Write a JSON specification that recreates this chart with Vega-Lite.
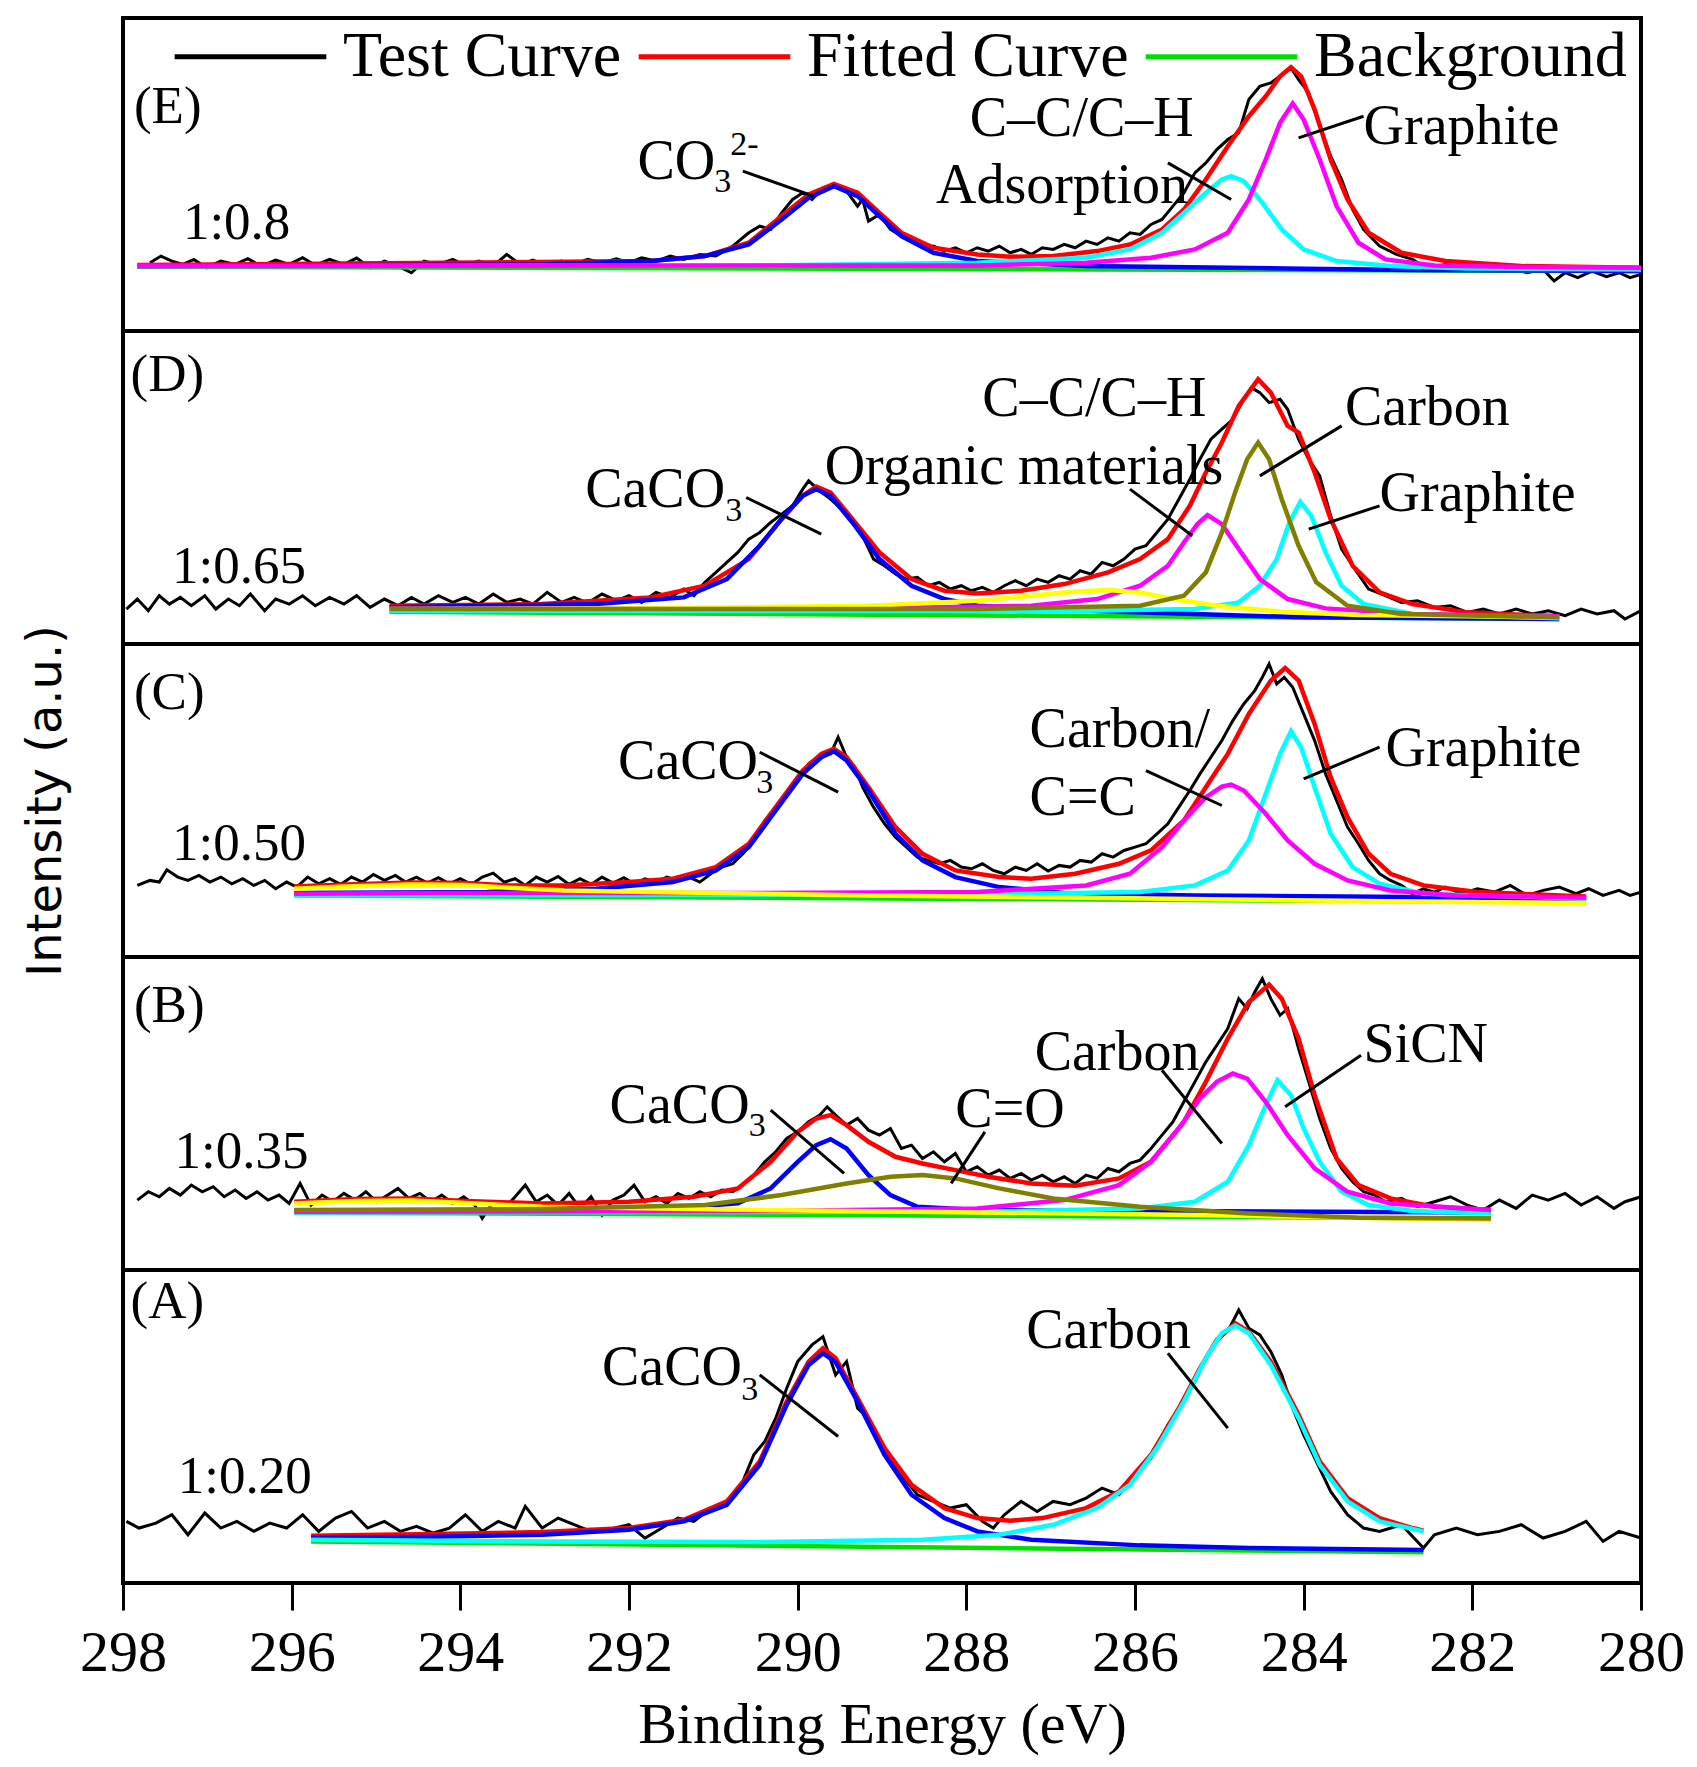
{
  "$schema": "https://vega.github.io/schema/vega-lite/v6.json",
  "background": "white",
  "padding": {"left": 19, "top": -22, "right": 0, "bottom": 0},
  "spacing": 0,
  "bounds": "flush",
  "config": {
    "view": {"stroke": "black", "strokeWidth": 4},
    "font": "Liberation Serif"
  },
  "datasets": {
    "curves": [
      {"p":"E","s":"Test Curve","x":297.68,"y":205},{"p":"E","s":"Test Curve","x":297.55,"y":225},{"p":"E","s":"Test Curve","x":297.42,"y":210},{"p":"E","s":"Test Curve","x":297.29,"y":200},{"p":"E","s":"Test Curve","x":297.16,"y":215},{"p":"E","s":"Test Curve","x":297.01,"y":190},{"p":"E","s":"Test Curve","x":296.84,"y":210},{"p":"E","s":"Test Curve","x":296.67,"y":200},{"p":"E","s":"Test Curve","x":296.52,"y":217},{"p":"E","s":"Test Curve","x":296.36,"y":195},{"p":"E","s":"Test Curve","x":296.19,"y":213},{"p":"E","s":"Test Curve","x":296.03,"y":200},{"p":"E","s":"Test Curve","x":295.87,"y":220},{"p":"E","s":"Test Curve","x":295.72,"y":197},{"p":"E","s":"Test Curve","x":295.55,"y":215},{"p":"E","s":"Test Curve","x":295.38,"y":200},{"p":"E","s":"Test Curve","x":295.23,"y":219},{"p":"E","s":"Test Curve","x":295.07,"y":190},{"p":"E","s":"Test Curve","x":294.9,"y":210},{"p":"E","s":"Test Curve","x":294.74,"y":195},{"p":"E","s":"Test Curve","x":294.58,"y":175},{"p":"E","s":"Test Curve","x":294.43,"y":210},{"p":"E","s":"Test Curve","x":294.26,"y":200},{"p":"E","s":"Test Curve","x":294.09,"y":215},{"p":"E","s":"Test Curve","x":293.94,"y":197},{"p":"E","s":"Test Curve","x":293.78,"y":210},{"p":"E","s":"Test Curve","x":293.61,"y":195},{"p":"E","s":"Test Curve","x":293.45,"y":230},{"p":"E","s":"Test Curve","x":293.29,"y":200},{"p":"E","s":"Test Curve","x":293.14,"y":213},{"p":"E","s":"Test Curve","x":292.97,"y":195},{"p":"E","s":"Test Curve","x":292.8,"y":210},{"p":"E","s":"Test Curve","x":292.65,"y":200},{"p":"E","s":"Test Curve","x":292.49,"y":215},{"p":"E","s":"Test Curve","x":292.32,"y":205},{"p":"E","s":"Test Curve","x":292.15,"y":217},{"p":"E","s":"Test Curve","x":292.0,"y":205},{"p":"E","s":"Test Curve","x":291.85,"y":220},{"p":"E","s":"Test Curve","x":291.68,"y":210},{"p":"E","s":"Test Curve","x":291.51,"y":225},{"p":"E","s":"Test Curve","x":291.35,"y":215},{"p":"E","s":"Test Curve","x":291.16,"y":230},{"p":"E","s":"Test Curve","x":290.97,"y":225},{"p":"E","s":"Test Curve","x":290.77,"y":255},{"p":"E","s":"Test Curve","x":290.58,"y":295},{"p":"E","s":"Test Curve","x":290.45,"y":315},{"p":"E","s":"Test Curve","x":290.32,"y":305},{"p":"E","s":"Test Curve","x":290.19,"y":355},{"p":"E","s":"Test Curve","x":290.06,"y":395},{"p":"E","s":"Test Curve","x":289.94,"y":415},{"p":"E","s":"Test Curve","x":289.83,"y":395},{"p":"E","s":"Test Curve","x":289.7,"y":430},{"p":"E","s":"Test Curve","x":289.57,"y":440},{"p":"E","s":"Test Curve","x":289.42,"y":420},{"p":"E","s":"Test Curve","x":289.29,"y":375},{"p":"E","s":"Test Curve","x":289.23,"y":395},{"p":"E","s":"Test Curve","x":289.16,"y":330},{"p":"E","s":"Test Curve","x":289.03,"y":350},{"p":"E","s":"Test Curve","x":288.9,"y":305},{"p":"E","s":"Test Curve","x":288.77,"y":285},{"p":"E","s":"Test Curve","x":288.65,"y":275},{"p":"E","s":"Test Curve","x":288.52,"y":250},{"p":"E","s":"Test Curve","x":288.39,"y":255},{"p":"E","s":"Test Curve","x":288.26,"y":240},{"p":"E","s":"Test Curve","x":288.13,"y":250},{"p":"E","s":"Test Curve","x":288.0,"y":235},{"p":"E","s":"Test Curve","x":287.87,"y":250},{"p":"E","s":"Test Curve","x":287.74,"y":240},{"p":"E","s":"Test Curve","x":287.61,"y":255},{"p":"E","s":"Test Curve","x":287.48,"y":235},{"p":"E","s":"Test Curve","x":287.35,"y":245},{"p":"E","s":"Test Curve","x":287.23,"y":230},{"p":"E","s":"Test Curve","x":287.1,"y":250},{"p":"E","s":"Test Curve","x":286.97,"y":245},{"p":"E","s":"Test Curve","x":286.84,"y":260},{"p":"E","s":"Test Curve","x":286.71,"y":250},{"p":"E","s":"Test Curve","x":286.58,"y":270},{"p":"E","s":"Test Curve","x":286.45,"y":260},{"p":"E","s":"Test Curve","x":286.32,"y":280},{"p":"E","s":"Test Curve","x":286.19,"y":270},{"p":"E","s":"Test Curve","x":286.06,"y":295},{"p":"E","s":"Test Curve","x":285.94,"y":290},{"p":"E","s":"Test Curve","x":285.81,"y":320},{"p":"E","s":"Test Curve","x":285.68,"y":335},{"p":"E","s":"Test Curve","x":285.55,"y":375},{"p":"E","s":"Test Curve","x":285.42,"y":415},{"p":"E","s":"Test Curve","x":285.29,"y":475},{"p":"E","s":"Test Curve","x":285.16,"y":505},{"p":"E","s":"Test Curve","x":285.03,"y":545},{"p":"E","s":"Test Curve","x":284.9,"y":575},{"p":"E","s":"Test Curve","x":284.77,"y":595},{"p":"E","s":"Test Curve","x":284.65,"y":695},{"p":"E","s":"Test Curve","x":284.52,"y":735},{"p":"E","s":"Test Curve","x":284.39,"y":745},{"p":"E","s":"Test Curve","x":284.26,"y":770},{"p":"E","s":"Test Curve","x":284.15,"y":790},{"p":"E","s":"Test Curve","x":284.06,"y":755},{"p":"E","s":"Test Curve","x":283.94,"y":715},{"p":"E","s":"Test Curve","x":283.81,"y":615},{"p":"E","s":"Test Curve","x":283.68,"y":525},{"p":"E","s":"Test Curve","x":283.55,"y":455},{"p":"E","s":"Test Curve","x":283.42,"y":365},{"p":"E","s":"Test Curve","x":283.29,"y":305},{"p":"E","s":"Test Curve","x":283.1,"y":255},{"p":"E","s":"Test Curve","x":282.9,"y":230},{"p":"E","s":"Test Curve","x":282.71,"y":215},{"p":"E","s":"Test Curve","x":282.52,"y":185},{"p":"E","s":"Test Curve","x":282.32,"y":200},{"p":"E","s":"Test Curve","x":282.13,"y":185},{"p":"E","s":"Test Curve","x":281.94,"y":195},{"p":"E","s":"Test Curve","x":281.74,"y":180},{"p":"E","s":"Test Curve","x":281.55,"y":190},{"p":"E","s":"Test Curve","x":281.35,"y":175},{"p":"E","s":"Test Curve","x":281.16,"y":185},{"p":"E","s":"Test Curve","x":281.03,"y":150},{"p":"E","s":"Test Curve","x":280.9,"y":175},{"p":"E","s":"Test Curve","x":280.75,"y":160},{"p":"E","s":"Test Curve","x":280.58,"y":180},{"p":"E","s":"Test Curve","x":280.41,"y":163},{"p":"E","s":"Test Curve","x":280.26,"y":175},{"p":"E","s":"Test Curve","x":280.13,"y":160},{"p":"E","s":"Test Curve","x":280.0,"y":170},
      {"p":"E","s":"Fitted Curve","x":297.83,"y":198},{"p":"E","s":"Fitted Curve","x":291.74,"y":210},{"p":"E","s":"Fitted Curve","x":291.1,"y":225},{"p":"E","s":"Fitted Curve","x":290.58,"y":265},{"p":"E","s":"Fitted Curve","x":290.19,"y":345},{"p":"E","s":"Fitted Curve","x":289.87,"y":410},{"p":"E","s":"Fitted Curve","x":289.57,"y":442},{"p":"E","s":"Fitted Curve","x":289.29,"y":415},{"p":"E","s":"Fitted Curve","x":289.03,"y":355},{"p":"E","s":"Fitted Curve","x":288.77,"y":295},{"p":"E","s":"Fitted Curve","x":288.39,"y":250},{"p":"E","s":"Fitted Curve","x":287.87,"y":230},{"p":"E","s":"Fitted Curve","x":287.48,"y":223},{"p":"E","s":"Fitted Curve","x":286.97,"y":225},{"p":"E","s":"Fitted Curve","x":286.45,"y":240},{"p":"E","s":"Fitted Curve","x":286.06,"y":260},{"p":"E","s":"Fitted Curve","x":285.68,"y":305},{"p":"E","s":"Fitted Curve","x":285.42,"y":365},{"p":"E","s":"Fitted Curve","x":285.16,"y":455},{"p":"E","s":"Fitted Curve","x":284.9,"y":555},{"p":"E","s":"Fitted Curve","x":284.65,"y":645},{"p":"E","s":"Fitted Curve","x":284.45,"y":705},{"p":"E","s":"Fitted Curve","x":284.28,"y":765},{"p":"E","s":"Fitted Curve","x":284.15,"y":792},{"p":"E","s":"Fitted Curve","x":284.03,"y":765},{"p":"E","s":"Fitted Curve","x":283.87,"y":665},{"p":"E","s":"Fitted Curve","x":283.68,"y":515},{"p":"E","s":"Fitted Curve","x":283.48,"y":395},{"p":"E","s":"Fitted Curve","x":283.23,"y":295},{"p":"E","s":"Fitted Curve","x":282.84,"y":235},{"p":"E","s":"Fitted Curve","x":282.32,"y":210},{"p":"E","s":"Fitted Curve","x":281.42,"y":195},{"p":"E","s":"Fitted Curve","x":280.0,"y":190},
      {"p":"E","s":"Background","x":297.83,"y":193},{"p":"E","s":"Background","x":280.0,"y":180},
      {"p":"E","s":"b","x":297.83,"y":195},{"p":"E","s":"b","x":293.03,"y":200},{"p":"E","s":"b","x":291.74,"y":210},{"p":"E","s":"b","x":291.1,"y":225},{"p":"E","s":"b","x":290.58,"y":260},{"p":"E","s":"b","x":290.19,"y":335},{"p":"E","s":"b","x":289.87,"y":400},{"p":"E","s":"b","x":289.57,"y":435},{"p":"E","s":"b","x":289.29,"y":405},{"p":"E","s":"b","x":289.03,"y":345},{"p":"E","s":"b","x":288.77,"y":285},{"p":"E","s":"b","x":288.39,"y":235},{"p":"E","s":"b","x":287.87,"y":210},{"p":"E","s":"b","x":286.58,"y":195},{"p":"E","s":"b","x":284.0,"y":187},{"p":"E","s":"b","x":282.71,"y":183},{"p":"E","s":"b","x":280.0,"y":180},
      {"p":"E","s":"c","x":297.83,"y":195},{"p":"E","s":"c","x":290.45,"y":197},{"p":"E","s":"c","x":287.87,"y":205},{"p":"E","s":"c","x":286.58,"y":220},{"p":"E","s":"c","x":286.06,"y":245},{"p":"E","s":"c","x":285.68,"y":295},{"p":"E","s":"c","x":285.42,"y":355},{"p":"E","s":"c","x":285.16,"y":415},{"p":"E","s":"c","x":284.97,"y":455},{"p":"E","s":"c","x":284.86,"y":465},{"p":"E","s":"c","x":284.71,"y":450},{"p":"E","s":"c","x":284.52,"y":395},{"p":"E","s":"c","x":284.26,"y":305},{"p":"E","s":"c","x":284.0,"y":245},{"p":"E","s":"c","x":283.61,"y":210},{"p":"E","s":"c","x":282.97,"y":195},{"p":"E","s":"c","x":282.06,"y":188},{"p":"E","s":"c","x":280.0,"y":185},
      {"p":"E","s":"m","x":297.83,"y":195},{"p":"E","s":"m","x":287.87,"y":197},{"p":"E","s":"m","x":286.58,"y":205},{"p":"E","s":"m","x":285.81,"y":220},{"p":"E","s":"m","x":285.29,"y":245},{"p":"E","s":"m","x":284.9,"y":295},{"p":"E","s":"m","x":284.65,"y":395},{"p":"E","s":"m","x":284.45,"y":515},{"p":"E","s":"m","x":284.28,"y":625},{"p":"E","s":"m","x":284.13,"y":683},{"p":"E","s":"m","x":284.0,"y":635},{"p":"E","s":"m","x":283.81,"y":515},{"p":"E","s":"m","x":283.61,"y":375},{"p":"E","s":"m","x":283.35,"y":265},{"p":"E","s":"m","x":283.03,"y":215},{"p":"E","s":"m","x":282.45,"y":197},{"p":"E","s":"m","x":281.42,"y":192},{"p":"E","s":"m","x":280.0,"y":190},

      {"p":"D","s":"Test Curve","x":297.96,"y":105},{"p":"D","s":"Test Curve","x":297.83,"y":135},{"p":"D","s":"Test Curve","x":297.7,"y":100},{"p":"D","s":"Test Curve","x":297.57,"y":145},{"p":"D","s":"Test Curve","x":297.45,"y":120},{"p":"D","s":"Test Curve","x":297.32,"y":140},{"p":"D","s":"Test Curve","x":297.19,"y":115},{"p":"D","s":"Test Curve","x":297.03,"y":145},{"p":"D","s":"Test Curve","x":296.9,"y":105},{"p":"D","s":"Test Curve","x":296.75,"y":135},{"p":"D","s":"Test Curve","x":296.62,"y":115},{"p":"D","s":"Test Curve","x":296.49,"y":150},{"p":"D","s":"Test Curve","x":296.32,"y":100},{"p":"D","s":"Test Curve","x":296.19,"y":135},{"p":"D","s":"Test Curve","x":296.03,"y":120},{"p":"D","s":"Test Curve","x":295.87,"y":145},{"p":"D","s":"Test Curve","x":295.72,"y":115},{"p":"D","s":"Test Curve","x":295.55,"y":140},{"p":"D","s":"Test Curve","x":295.38,"y":120},{"p":"D","s":"Test Curve","x":295.23,"y":145},{"p":"D","s":"Test Curve","x":295.07,"y":110},{"p":"D","s":"Test Curve","x":294.9,"y":135},{"p":"D","s":"Test Curve","x":294.74,"y":115},{"p":"D","s":"Test Curve","x":294.58,"y":140},{"p":"D","s":"Test Curve","x":294.43,"y":120},{"p":"D","s":"Test Curve","x":294.26,"y":145},{"p":"D","s":"Test Curve","x":294.09,"y":125},{"p":"D","s":"Test Curve","x":293.94,"y":140},{"p":"D","s":"Test Curve","x":293.78,"y":120},{"p":"D","s":"Test Curve","x":293.61,"y":150},{"p":"D","s":"Test Curve","x":293.45,"y":125},{"p":"D","s":"Test Curve","x":293.29,"y":135},{"p":"D","s":"Test Curve","x":293.14,"y":120},{"p":"D","s":"Test Curve","x":292.97,"y":155},{"p":"D","s":"Test Curve","x":292.8,"y":125},{"p":"D","s":"Test Curve","x":292.65,"y":140},{"p":"D","s":"Test Curve","x":292.49,"y":123},{"p":"D","s":"Test Curve","x":292.32,"y":150},{"p":"D","s":"Test Curve","x":292.15,"y":130},{"p":"D","s":"Test Curve","x":292.0,"y":145},{"p":"D","s":"Test Curve","x":291.85,"y":125},{"p":"D","s":"Test Curve","x":291.68,"y":155},{"p":"D","s":"Test Curve","x":291.51,"y":140},{"p":"D","s":"Test Curve","x":291.35,"y":165},{"p":"D","s":"Test Curve","x":291.23,"y":145},{"p":"D","s":"Test Curve","x":291.1,"y":185},{"p":"D","s":"Test Curve","x":290.97,"y":215},{"p":"D","s":"Test Curve","x":290.84,"y":245},{"p":"D","s":"Test Curve","x":290.71,"y":275},{"p":"D","s":"Test Curve","x":290.58,"y":315},{"p":"D","s":"Test Curve","x":290.45,"y":335},{"p":"D","s":"Test Curve","x":290.32,"y":365},{"p":"D","s":"Test Curve","x":290.19,"y":390},{"p":"D","s":"Test Curve","x":290.06,"y":415},{"p":"D","s":"Test Curve","x":289.94,"y":465},{"p":"D","s":"Test Curve","x":289.87,"y":490},{"p":"D","s":"Test Curve","x":289.74,"y":460},{"p":"D","s":"Test Curve","x":289.61,"y":435},{"p":"D","s":"Test Curve","x":289.48,"y":405},{"p":"D","s":"Test Curve","x":289.35,"y":365},{"p":"D","s":"Test Curve","x":289.23,"y":325},{"p":"D","s":"Test Curve","x":289.1,"y":255},{"p":"D","s":"Test Curve","x":288.97,"y":235},{"p":"D","s":"Test Curve","x":288.84,"y":210},{"p":"D","s":"Test Curve","x":288.71,"y":195},{"p":"D","s":"Test Curve","x":288.58,"y":200},{"p":"D","s":"Test Curve","x":288.45,"y":175},{"p":"D","s":"Test Curve","x":288.32,"y":185},{"p":"D","s":"Test Curve","x":288.19,"y":165},{"p":"D","s":"Test Curve","x":288.06,"y":175},{"p":"D","s":"Test Curve","x":287.94,"y":160},{"p":"D","s":"Test Curve","x":287.81,"y":170},{"p":"D","s":"Test Curve","x":287.68,"y":155},{"p":"D","s":"Test Curve","x":287.55,"y":175},{"p":"D","s":"Test Curve","x":287.42,"y":190},{"p":"D","s":"Test Curve","x":287.29,"y":175},{"p":"D","s":"Test Curve","x":287.16,"y":195},{"p":"D","s":"Test Curve","x":287.03,"y":185},{"p":"D","s":"Test Curve","x":286.9,"y":205},{"p":"D","s":"Test Curve","x":286.77,"y":195},{"p":"D","s":"Test Curve","x":286.65,"y":220},{"p":"D","s":"Test Curve","x":286.52,"y":210},{"p":"D","s":"Test Curve","x":286.39,"y":245},{"p":"D","s":"Test Curve","x":286.26,"y":235},{"p":"D","s":"Test Curve","x":286.13,"y":255},{"p":"D","s":"Test Curve","x":286.0,"y":285},{"p":"D","s":"Test Curve","x":285.87,"y":295},{"p":"D","s":"Test Curve","x":285.74,"y":335},{"p":"D","s":"Test Curve","x":285.61,"y":375},{"p":"D","s":"Test Curve","x":285.48,"y":435},{"p":"D","s":"Test Curve","x":285.35,"y":495},{"p":"D","s":"Test Curve","x":285.23,"y":555},{"p":"D","s":"Test Curve","x":285.1,"y":615},{"p":"D","s":"Test Curve","x":284.97,"y":645},{"p":"D","s":"Test Curve","x":284.84,"y":675},{"p":"D","s":"Test Curve","x":284.71,"y":735},{"p":"D","s":"Test Curve","x":284.62,"y":770},{"p":"D","s":"Test Curve","x":284.52,"y":755},{"p":"D","s":"Test Curve","x":284.41,"y":725},{"p":"D","s":"Test Curve","x":284.28,"y":735},{"p":"D","s":"Test Curve","x":284.19,"y":705},{"p":"D","s":"Test Curve","x":284.06,"y":615},{"p":"D","s":"Test Curve","x":283.94,"y":555},{"p":"D","s":"Test Curve","x":283.81,"y":505},{"p":"D","s":"Test Curve","x":283.68,"y":385},{"p":"D","s":"Test Curve","x":283.55,"y":285},{"p":"D","s":"Test Curve","x":283.42,"y":235},{"p":"D","s":"Test Curve","x":283.23,"y":165},{"p":"D","s":"Test Curve","x":283.03,"y":145},{"p":"D","s":"Test Curve","x":282.84,"y":125},{"p":"D","s":"Test Curve","x":282.65,"y":130},{"p":"D","s":"Test Curve","x":282.45,"y":110},{"p":"D","s":"Test Curve","x":282.26,"y":115},{"p":"D","s":"Test Curve","x":282.06,"y":95},{"p":"D","s":"Test Curve","x":281.87,"y":105},{"p":"D","s":"Test Curve","x":281.68,"y":90},{"p":"D","s":"Test Curve","x":281.48,"y":105},{"p":"D","s":"Test Curve","x":281.29,"y":90},{"p":"D","s":"Test Curve","x":281.1,"y":100},{"p":"D","s":"Test Curve","x":280.9,"y":85},{"p":"D","s":"Test Curve","x":280.71,"y":105},{"p":"D","s":"Test Curve","x":280.52,"y":90},{"p":"D","s":"Test Curve","x":280.32,"y":100},{"p":"D","s":"Test Curve","x":280.19,"y":75},{"p":"D","s":"Test Curve","x":280.0,"y":100},
      {"p":"D","s":"Fitted Curve","x":294.84,"y":115},{"p":"D","s":"Fitted Curve","x":293.03,"y":120},{"p":"D","s":"Fitted Curve","x":291.74,"y":140},{"p":"D","s":"Fitted Curve","x":291.1,"y":175},{"p":"D","s":"Fitted Curve","x":290.58,"y":255},{"p":"D","s":"Fitted Curve","x":290.19,"y":375},{"p":"D","s":"Fitted Curve","x":289.94,"y":445},{"p":"D","s":"Fitted Curve","x":289.78,"y":473},{"p":"D","s":"Fitted Curve","x":289.61,"y":455},{"p":"D","s":"Fitted Curve","x":289.35,"y":375},{"p":"D","s":"Fitted Curve","x":289.03,"y":275},{"p":"D","s":"Fitted Curve","x":288.65,"y":195},{"p":"D","s":"Fitted Curve","x":288.26,"y":160},{"p":"D","s":"Fitted Curve","x":287.87,"y":152},{"p":"D","s":"Fitted Curve","x":287.35,"y":160},{"p":"D","s":"Fitted Curve","x":286.84,"y":180},{"p":"D","s":"Fitted Curve","x":286.32,"y":215},{"p":"D","s":"Fitted Curve","x":285.94,"y":255},{"p":"D","s":"Fitted Curve","x":285.61,"y":315},{"p":"D","s":"Fitted Curve","x":285.35,"y":415},{"p":"D","s":"Fitted Curve","x":285.16,"y":515},{"p":"D","s":"Fitted Curve","x":284.97,"y":605},{"p":"D","s":"Fitted Curve","x":284.77,"y":715},{"p":"D","s":"Fitted Curve","x":284.54,"y":795},{"p":"D","s":"Fitted Curve","x":284.39,"y":755},{"p":"D","s":"Fitted Curve","x":284.19,"y":655},{"p":"D","s":"Fitted Curve","x":284.06,"y":635},{"p":"D","s":"Fitted Curve","x":283.87,"y":515},{"p":"D","s":"Fitted Curve","x":283.68,"y":375},{"p":"D","s":"Fitted Curve","x":283.42,"y":235},{"p":"D","s":"Fitted Curve","x":283.1,"y":155},{"p":"D","s":"Fitted Curve","x":282.71,"y":120},{"p":"D","s":"Fitted Curve","x":282.06,"y":95},{"p":"D","s":"Fitted Curve","x":280.97,"y":83},
      {"p":"D","s":"Background","x":294.84,"y":97},{"p":"D","s":"Background","x":280.97,"y":75},
      {"p":"D","s":"b","x":294.84,"y":110},{"p":"D","s":"b","x":292.39,"y":120},{"p":"D","s":"b","x":291.35,"y":140},{"p":"D","s":"b","x":290.84,"y":195},{"p":"D","s":"b","x":290.45,"y":295},{"p":"D","s":"b","x":290.13,"y":395},{"p":"D","s":"b","x":289.94,"y":445},{"p":"D","s":"b","x":289.78,"y":465},{"p":"D","s":"b","x":289.61,"y":445},{"p":"D","s":"b","x":289.35,"y":365},{"p":"D","s":"b","x":289.03,"y":255},{"p":"D","s":"b","x":288.65,"y":175},{"p":"D","s":"b","x":288.26,"y":135},{"p":"D","s":"b","x":287.87,"y":115},{"p":"D","s":"b","x":286.58,"y":100},{"p":"D","s":"b","x":285.29,"y":90},{"p":"D","s":"b","x":284.0,"y":80},{"p":"D","s":"b","x":280.97,"y":75},
      {"p":"D","s":"c","x":294.84,"y":100},{"p":"D","s":"c","x":286.58,"y":100},{"p":"D","s":"c","x":285.29,"y":105},{"p":"D","s":"c","x":284.77,"y":125},{"p":"D","s":"c","x":284.52,"y":175},{"p":"D","s":"c","x":284.32,"y":255},{"p":"D","s":"c","x":284.17,"y":365},{"p":"D","s":"c","x":284.04,"y":427},{"p":"D","s":"c","x":283.91,"y":385},{"p":"D","s":"c","x":283.74,"y":275},{"p":"D","s":"c","x":283.55,"y":175},{"p":"D","s":"c","x":283.29,"y":120},{"p":"D","s":"c","x":282.71,"y":90},{"p":"D","s":"c","x":280.97,"y":77},
      {"p":"D","s":"m","x":294.84,"y":105},{"p":"D","s":"m","x":289.16,"y":107},{"p":"D","s":"m","x":287.23,"y":115},{"p":"D","s":"m","x":286.45,"y":135},{"p":"D","s":"m","x":285.94,"y":175},{"p":"D","s":"m","x":285.61,"y":235},{"p":"D","s":"m","x":285.42,"y":305},{"p":"D","s":"m","x":285.26,"y":360},{"p":"D","s":"m","x":285.14,"y":387},{"p":"D","s":"m","x":284.97,"y":360},{"p":"D","s":"m","x":284.77,"y":285},{"p":"D","s":"m","x":284.52,"y":195},{"p":"D","s":"m","x":284.19,"y":135},{"p":"D","s":"m","x":283.74,"y":107},{"p":"D","s":"m","x":282.71,"y":90},{"p":"D","s":"m","x":280.97,"y":83},
      {"p":"D","s":"y","x":294.84,"y":105},{"p":"D","s":"y","x":291.74,"y":107},{"p":"D","s":"y","x":289.16,"y":115},{"p":"D","s":"y","x":287.87,"y":130},{"p":"D","s":"y","x":287.23,"y":145},{"p":"D","s":"y","x":286.71,"y":158},{"p":"D","s":"y","x":286.32,"y":162},{"p":"D","s":"y","x":285.94,"y":155},{"p":"D","s":"y","x":285.55,"y":135},{"p":"D","s":"y","x":285.03,"y":115},{"p":"D","s":"y","x":284.26,"y":97},{"p":"D","s":"y","x":283.35,"y":87},{"p":"D","s":"y","x":280.97,"y":80},
      {"p":"D","s":"o","x":294.84,"y":105},{"p":"D","s":"o","x":287.87,"y":105},{"p":"D","s":"o","x":285.94,"y":115},{"p":"D","s":"o","x":285.42,"y":145},{"p":"D","s":"o","x":285.16,"y":215},{"p":"D","s":"o","x":284.97,"y":335},{"p":"D","s":"o","x":284.8,"y":465},{"p":"D","s":"o","x":284.67,"y":555},{"p":"D","s":"o","x":284.54,"y":605},{"p":"D","s":"o","x":284.41,"y":555},{"p":"D","s":"o","x":284.26,"y":435},{"p":"D","s":"o","x":284.06,"y":295},{"p":"D","s":"o","x":283.85,"y":185},{"p":"D","s":"o","x":283.48,"y":115},{"p":"D","s":"o","x":282.84,"y":90},{"p":"D","s":"o","x":280.97,"y":80},

      {"p":"C","s":"Test Curve","x":297.83,"y":215},{"p":"C","s":"Test Curve","x":297.68,"y":230},{"p":"C","s":"Test Curve","x":297.57,"y":225},{"p":"C","s":"Test Curve","x":297.48,"y":262},{"p":"C","s":"Test Curve","x":297.35,"y":240},{"p":"C","s":"Test Curve","x":297.23,"y":230},{"p":"C","s":"Test Curve","x":297.1,"y":245},{"p":"C","s":"Test Curve","x":296.97,"y":225},{"p":"C","s":"Test Curve","x":296.84,"y":240},{"p":"C","s":"Test Curve","x":296.71,"y":220},{"p":"C","s":"Test Curve","x":296.58,"y":235},{"p":"C","s":"Test Curve","x":296.45,"y":215},{"p":"C","s":"Test Curve","x":296.32,"y":230},{"p":"C","s":"Test Curve","x":296.19,"y":205},{"p":"C","s":"Test Curve","x":296.06,"y":225},{"p":"C","s":"Test Curve","x":295.94,"y":210},{"p":"C","s":"Test Curve","x":295.81,"y":240},{"p":"C","s":"Test Curve","x":295.68,"y":220},{"p":"C","s":"Test Curve","x":295.55,"y":235},{"p":"C","s":"Test Curve","x":295.42,"y":218},{"p":"C","s":"Test Curve","x":295.29,"y":240},{"p":"C","s":"Test Curve","x":295.16,"y":225},{"p":"C","s":"Test Curve","x":295.03,"y":248},{"p":"C","s":"Test Curve","x":294.9,"y":230},{"p":"C","s":"Test Curve","x":294.77,"y":245},{"p":"C","s":"Test Curve","x":294.65,"y":225},{"p":"C","s":"Test Curve","x":294.52,"y":240},{"p":"C","s":"Test Curve","x":294.39,"y":222},{"p":"C","s":"Test Curve","x":294.26,"y":238},{"p":"C","s":"Test Curve","x":294.13,"y":220},{"p":"C","s":"Test Curve","x":294.0,"y":235},{"p":"C","s":"Test Curve","x":293.87,"y":218},{"p":"C","s":"Test Curve","x":293.74,"y":240},{"p":"C","s":"Test Curve","x":293.61,"y":252},{"p":"C","s":"Test Curve","x":293.48,"y":225},{"p":"C","s":"Test Curve","x":293.35,"y":235},{"p":"C","s":"Test Curve","x":293.23,"y":215},{"p":"C","s":"Test Curve","x":293.1,"y":240},{"p":"C","s":"Test Curve","x":292.97,"y":225},{"p":"C","s":"Test Curve","x":292.84,"y":242},{"p":"C","s":"Test Curve","x":292.71,"y":218},{"p":"C","s":"Test Curve","x":292.58,"y":235},{"p":"C","s":"Test Curve","x":292.45,"y":218},{"p":"C","s":"Test Curve","x":292.32,"y":240},{"p":"C","s":"Test Curve","x":292.19,"y":222},{"p":"C","s":"Test Curve","x":292.06,"y":238},{"p":"C","s":"Test Curve","x":291.94,"y":220},{"p":"C","s":"Test Curve","x":291.81,"y":235},{"p":"C","s":"Test Curve","x":291.68,"y":225},{"p":"C","s":"Test Curve","x":291.55,"y":240},{"p":"C","s":"Test Curve","x":291.42,"y":230},{"p":"C","s":"Test Curve","x":291.29,"y":240},{"p":"C","s":"Test Curve","x":291.16,"y":225},{"p":"C","s":"Test Curve","x":291.03,"y":250},{"p":"C","s":"Test Curve","x":290.9,"y":270},{"p":"C","s":"Test Curve","x":290.77,"y":280},{"p":"C","s":"Test Curve","x":290.65,"y":310},{"p":"C","s":"Test Curve","x":290.52,"y":350},{"p":"C","s":"Test Curve","x":290.39,"y":410},{"p":"C","s":"Test Curve","x":290.26,"y":450},{"p":"C","s":"Test Curve","x":290.13,"y":490},{"p":"C","s":"Test Curve","x":290.0,"y":530},{"p":"C","s":"Test Curve","x":289.87,"y":580},{"p":"C","s":"Test Curve","x":289.74,"y":605},{"p":"C","s":"Test Curve","x":289.61,"y":610},{"p":"C","s":"Test Curve","x":289.52,"y":660},{"p":"C","s":"Test Curve","x":289.42,"y":600},{"p":"C","s":"Test Curve","x":289.32,"y":570},{"p":"C","s":"Test Curve","x":289.23,"y":510},{"p":"C","s":"Test Curve","x":289.1,"y":450},{"p":"C","s":"Test Curve","x":288.97,"y":400},{"p":"C","s":"Test Curve","x":288.84,"y":360},{"p":"C","s":"Test Curve","x":288.71,"y":330},{"p":"C","s":"Test Curve","x":288.58,"y":300},{"p":"C","s":"Test Curve","x":288.45,"y":290},{"p":"C","s":"Test Curve","x":288.32,"y":280},{"p":"C","s":"Test Curve","x":288.19,"y":290},{"p":"C","s":"Test Curve","x":288.06,"y":270},{"p":"C","s":"Test Curve","x":287.94,"y":265},{"p":"C","s":"Test Curve","x":287.81,"y":280},{"p":"C","s":"Test Curve","x":287.68,"y":260},{"p":"C","s":"Test Curve","x":287.55,"y":250},{"p":"C","s":"Test Curve","x":287.42,"y":270},{"p":"C","s":"Test Curve","x":287.29,"y":260},{"p":"C","s":"Test Curve","x":287.16,"y":280},{"p":"C","s":"Test Curve","x":287.03,"y":258},{"p":"C","s":"Test Curve","x":286.9,"y":275},{"p":"C","s":"Test Curve","x":286.77,"y":270},{"p":"C","s":"Test Curve","x":286.65,"y":290},{"p":"C","s":"Test Curve","x":286.52,"y":285},{"p":"C","s":"Test Curve","x":286.39,"y":310},{"p":"C","s":"Test Curve","x":286.26,"y":300},{"p":"C","s":"Test Curve","x":286.13,"y":320},{"p":"C","s":"Test Curve","x":286.0,"y":330},{"p":"C","s":"Test Curve","x":285.87,"y":340},{"p":"C","s":"Test Curve","x":285.74,"y":370},{"p":"C","s":"Test Curve","x":285.61,"y":400},{"p":"C","s":"Test Curve","x":285.48,"y":450},{"p":"C","s":"Test Curve","x":285.35,"y":500},{"p":"C","s":"Test Curve","x":285.23,"y":550},{"p":"C","s":"Test Curve","x":285.1,"y":600},{"p":"C","s":"Test Curve","x":284.97,"y":650},{"p":"C","s":"Test Curve","x":284.84,"y":710},{"p":"C","s":"Test Curve","x":284.71,"y":760},{"p":"C","s":"Test Curve","x":284.58,"y":800},{"p":"C","s":"Test Curve","x":284.49,"y":840},{"p":"C","s":"Test Curve","x":284.41,"y":880},{"p":"C","s":"Test Curve","x":284.32,"y":820},{"p":"C","s":"Test Curve","x":284.23,"y":840},{"p":"C","s":"Test Curve","x":284.13,"y":810},{"p":"C","s":"Test Curve","x":284.0,"y":730},{"p":"C","s":"Test Curve","x":283.87,"y":650},{"p":"C","s":"Test Curve","x":283.74,"y":550},{"p":"C","s":"Test Curve","x":283.61,"y":470},{"p":"C","s":"Test Curve","x":283.48,"y":390},{"p":"C","s":"Test Curve","x":283.35,"y":340},{"p":"C","s":"Test Curve","x":283.23,"y":290},{"p":"C","s":"Test Curve","x":283.1,"y":250},{"p":"C","s":"Test Curve","x":282.97,"y":230},{"p":"C","s":"Test Curve","x":282.84,"y":215},{"p":"C","s":"Test Curve","x":282.71,"y":190},{"p":"C","s":"Test Curve","x":282.58,"y":205},{"p":"C","s":"Test Curve","x":282.45,"y":195},{"p":"C","s":"Test Curve","x":282.32,"y":210},{"p":"C","s":"Test Curve","x":282.13,"y":190},{"p":"C","s":"Test Curve","x":281.94,"y":205},{"p":"C","s":"Test Curve","x":281.74,"y":195},{"p":"C","s":"Test Curve","x":281.55,"y":215},{"p":"C","s":"Test Curve","x":281.35,"y":185},{"p":"C","s":"Test Curve","x":281.16,"y":200},{"p":"C","s":"Test Curve","x":280.97,"y":210},{"p":"C","s":"Test Curve","x":280.77,"y":190},{"p":"C","s":"Test Curve","x":280.62,"y":205},{"p":"C","s":"Test Curve","x":280.45,"y":185},{"p":"C","s":"Test Curve","x":280.26,"y":200},{"p":"C","s":"Test Curve","x":280.13,"y":185},{"p":"C","s":"Test Curve","x":280.0,"y":195},
      {"p":"C","s":"Fitted Curve","x":295.97,"y":212},{"p":"C","s":"Fitted Curve","x":295.35,"y":218},{"p":"C","s":"Fitted Curve","x":294.58,"y":224},{"p":"C","s":"Fitted Curve","x":293.94,"y":222},{"p":"C","s":"Fitted Curve","x":293.42,"y":215},{"p":"C","s":"Fitted Curve","x":292.77,"y":215},{"p":"C","s":"Fitted Curve","x":292.0,"y":225},{"p":"C","s":"Fitted Curve","x":291.48,"y":235},{"p":"C","s":"Fitted Curve","x":290.97,"y":270},{"p":"C","s":"Fitted Curve","x":290.58,"y":340},{"p":"C","s":"Fitted Curve","x":290.26,"y":450},{"p":"C","s":"Fitted Curve","x":289.94,"y":560},{"p":"C","s":"Fitted Curve","x":289.72,"y":610},{"p":"C","s":"Fitted Curve","x":289.57,"y":625},{"p":"C","s":"Fitted Curve","x":289.42,"y":600},{"p":"C","s":"Fitted Curve","x":289.16,"y":510},{"p":"C","s":"Fitted Curve","x":288.84,"y":390},{"p":"C","s":"Fitted Curve","x":288.52,"y":310},{"p":"C","s":"Fitted Curve","x":288.13,"y":260},{"p":"C","s":"Fitted Curve","x":287.61,"y":240},{"p":"C","s":"Fitted Curve","x":287.23,"y":235},{"p":"C","s":"Fitted Curve","x":286.71,"y":250},{"p":"C","s":"Fitted Curve","x":286.19,"y":280},{"p":"C","s":"Fitted Curve","x":285.81,"y":320},{"p":"C","s":"Fitted Curve","x":285.42,"y":410},{"p":"C","s":"Fitted Curve","x":285.16,"y":510},{"p":"C","s":"Fitted Curve","x":284.9,"y":610},{"p":"C","s":"Fitted Curve","x":284.65,"y":730},{"p":"C","s":"Fitted Curve","x":284.39,"y":830},{"p":"C","s":"Fitted Curve","x":284.22,"y":868},{"p":"C","s":"Fitted Curve","x":284.06,"y":830},{"p":"C","s":"Fitted Curve","x":283.87,"y":700},{"p":"C","s":"Fitted Curve","x":283.68,"y":540},{"p":"C","s":"Fitted Curve","x":283.48,"y":420},{"p":"C","s":"Fitted Curve","x":283.23,"y":310},{"p":"C","s":"Fitted Curve","x":282.97,"y":250},{"p":"C","s":"Fitted Curve","x":282.58,"y":215},{"p":"C","s":"Fitted Curve","x":281.94,"y":195},{"p":"C","s":"Fitted Curve","x":280.65,"y":182},
      {"p":"C","s":"Background","x":295.97,"y":185},{"p":"C","s":"Background","x":280.65,"y":165},
      {"p":"C","s":"b","x":295.97,"y":192},{"p":"C","s":"b","x":293.68,"y":195},{"p":"C","s":"b","x":292.39,"y":205},{"p":"C","s":"b","x":291.48,"y":225},{"p":"C","s":"b","x":290.97,"y":260},{"p":"C","s":"b","x":290.58,"y":330},{"p":"C","s":"b","x":290.26,"y":440},{"p":"C","s":"b","x":289.94,"y":550},{"p":"C","s":"b","x":289.72,"y":600},{"p":"C","s":"b","x":289.57,"y":618},{"p":"C","s":"b","x":289.42,"y":590},{"p":"C","s":"b","x":289.16,"y":500},{"p":"C","s":"b","x":288.84,"y":370},{"p":"C","s":"b","x":288.52,"y":290},{"p":"C","s":"b","x":288.13,"y":240},{"p":"C","s":"b","x":287.61,"y":210},{"p":"C","s":"b","x":286.84,"y":192},{"p":"C","s":"b","x":285.29,"y":185},{"p":"C","s":"b","x":282.71,"y":180},{"p":"C","s":"b","x":280.65,"y":175},
      {"p":"C","s":"c","x":295.97,"y":185},{"p":"C","s":"c","x":287.87,"y":188},{"p":"C","s":"c","x":285.94,"y":195},{"p":"C","s":"c","x":285.29,"y":215},{"p":"C","s":"c","x":284.9,"y":260},{"p":"C","s":"c","x":284.65,"y":350},{"p":"C","s":"c","x":284.45,"y":490},{"p":"C","s":"c","x":284.28,"y":610},{"p":"C","s":"c","x":284.15,"y":678},{"p":"C","s":"c","x":284.03,"y":630},{"p":"C","s":"c","x":283.87,"y":510},{"p":"C","s":"c","x":283.68,"y":370},{"p":"C","s":"c","x":283.42,"y":270},{"p":"C","s":"c","x":283.1,"y":220},{"p":"C","s":"c","x":282.58,"y":190},{"p":"C","s":"c","x":280.65,"y":175},
      {"p":"C","s":"m","x":295.97,"y":190},{"p":"C","s":"m","x":294.32,"y":192},{"p":"C","s":"m","x":290.45,"y":192},{"p":"C","s":"m","x":287.87,"y":195},{"p":"C","s":"m","x":286.58,"y":215},{"p":"C","s":"m","x":286.06,"y":250},{"p":"C","s":"m","x":285.68,"y":330},{"p":"C","s":"m","x":285.42,"y":410},{"p":"C","s":"m","x":285.16,"y":480},{"p":"C","s":"m","x":284.97,"y":512},{"p":"C","s":"m","x":284.86,"y":518},{"p":"C","s":"m","x":284.71,"y":500},{"p":"C","s":"m","x":284.45,"y":430},{"p":"C","s":"m","x":284.19,"y":350},{"p":"C","s":"m","x":283.87,"y":280},{"p":"C","s":"m","x":283.48,"y":230},{"p":"C","s":"m","x":282.97,"y":200},{"p":"C","s":"m","x":282.19,"y":185},{"p":"C","s":"m","x":280.65,"y":178},
      {"p":"C","s":"y","x":295.97,"y":205},{"p":"C","s":"y","x":295.35,"y":212},{"p":"C","s":"y","x":294.58,"y":218},{"p":"C","s":"y","x":293.94,"y":216},{"p":"C","s":"y","x":293.42,"y":208},{"p":"C","s":"y","x":292.77,"y":200},{"p":"C","s":"y","x":291.74,"y":195},{"p":"C","s":"y","x":289.16,"y":185},{"p":"C","s":"y","x":286.58,"y":178},{"p":"C","s":"y","x":284.0,"y":170},{"p":"C","s":"y","x":280.65,"y":162},

      {"p":"B","s":"Test Curve","x":297.83,"y":210},{"p":"B","s":"Test Curve","x":297.7,"y":235},{"p":"B","s":"Test Curve","x":297.57,"y":220},{"p":"B","s":"Test Curve","x":297.45,"y":245},{"p":"B","s":"Test Curve","x":297.32,"y":225},{"p":"B","s":"Test Curve","x":297.19,"y":255},{"p":"B","s":"Test Curve","x":297.06,"y":235},{"p":"B","s":"Test Curve","x":296.93,"y":250},{"p":"B","s":"Test Curve","x":296.8,"y":220},{"p":"B","s":"Test Curve","x":296.67,"y":240},{"p":"B","s":"Test Curve","x":296.54,"y":215},{"p":"B","s":"Test Curve","x":296.41,"y":235},{"p":"B","s":"Test Curve","x":296.28,"y":210},{"p":"B","s":"Test Curve","x":296.15,"y":225},{"p":"B","s":"Test Curve","x":296.03,"y":200},{"p":"B","s":"Test Curve","x":295.9,"y":260},{"p":"B","s":"Test Curve","x":295.77,"y":195},{"p":"B","s":"Test Curve","x":295.64,"y":225},{"p":"B","s":"Test Curve","x":295.51,"y":205},{"p":"B","s":"Test Curve","x":295.38,"y":230},{"p":"B","s":"Test Curve","x":295.25,"y":210},{"p":"B","s":"Test Curve","x":295.12,"y":235},{"p":"B","s":"Test Curve","x":294.99,"y":205},{"p":"B","s":"Test Curve","x":294.86,"y":225},{"p":"B","s":"Test Curve","x":294.74,"y":245},{"p":"B","s":"Test Curve","x":294.61,"y":215},{"p":"B","s":"Test Curve","x":294.48,"y":230},{"p":"B","s":"Test Curve","x":294.35,"y":205},{"p":"B","s":"Test Curve","x":294.22,"y":225},{"p":"B","s":"Test Curve","x":294.09,"y":200},{"p":"B","s":"Test Curve","x":293.96,"y":220},{"p":"B","s":"Test Curve","x":293.83,"y":195},{"p":"B","s":"Test Curve","x":293.74,"y":155},{"p":"B","s":"Test Curve","x":293.61,"y":205},{"p":"B","s":"Test Curve","x":293.48,"y":185},{"p":"B","s":"Test Curve","x":293.35,"y":220},{"p":"B","s":"Test Curve","x":293.23,"y":255},{"p":"B","s":"Test Curve","x":293.1,"y":205},{"p":"B","s":"Test Curve","x":292.97,"y":225},{"p":"B","s":"Test Curve","x":292.84,"y":195},{"p":"B","s":"Test Curve","x":292.71,"y":230},{"p":"B","s":"Test Curve","x":292.58,"y":185},{"p":"B","s":"Test Curve","x":292.45,"y":220},{"p":"B","s":"Test Curve","x":292.32,"y":165},{"p":"B","s":"Test Curve","x":292.19,"y":210},{"p":"B","s":"Test Curve","x":292.06,"y":225},{"p":"B","s":"Test Curve","x":291.94,"y":255},{"p":"B","s":"Test Curve","x":291.81,"y":205},{"p":"B","s":"Test Curve","x":291.68,"y":220},{"p":"B","s":"Test Curve","x":291.55,"y":200},{"p":"B","s":"Test Curve","x":291.42,"y":230},{"p":"B","s":"Test Curve","x":291.29,"y":215},{"p":"B","s":"Test Curve","x":291.16,"y":235},{"p":"B","s":"Test Curve","x":291.03,"y":220},{"p":"B","s":"Test Curve","x":290.9,"y":240},{"p":"B","s":"Test Curve","x":290.77,"y":235},{"p":"B","s":"Test Curve","x":290.65,"y":255},{"p":"B","s":"Test Curve","x":290.52,"y":285},{"p":"B","s":"Test Curve","x":290.39,"y":325},{"p":"B","s":"Test Curve","x":290.26,"y":355},{"p":"B","s":"Test Curve","x":290.13,"y":395},{"p":"B","s":"Test Curve","x":290.0,"y":415},{"p":"B","s":"Test Curve","x":289.87,"y":445},{"p":"B","s":"Test Curve","x":289.74,"y":465},{"p":"B","s":"Test Curve","x":289.65,"y":490},{"p":"B","s":"Test Curve","x":289.55,"y":465},{"p":"B","s":"Test Curve","x":289.42,"y":435},{"p":"B","s":"Test Curve","x":289.29,"y":455},{"p":"B","s":"Test Curve","x":289.16,"y":420},{"p":"B","s":"Test Curve","x":289.03,"y":405},{"p":"B","s":"Test Curve","x":288.9,"y":425},{"p":"B","s":"Test Curve","x":288.77,"y":365},{"p":"B","s":"Test Curve","x":288.65,"y":375},{"p":"B","s":"Test Curve","x":288.52,"y":335},{"p":"B","s":"Test Curve","x":288.39,"y":355},{"p":"B","s":"Test Curve","x":288.26,"y":325},{"p":"B","s":"Test Curve","x":288.13,"y":350},{"p":"B","s":"Test Curve","x":288.0,"y":295},{"p":"B","s":"Test Curve","x":287.87,"y":310},{"p":"B","s":"Test Curve","x":287.74,"y":285},{"p":"B","s":"Test Curve","x":287.61,"y":300},{"p":"B","s":"Test Curve","x":287.48,"y":275},{"p":"B","s":"Test Curve","x":287.35,"y":290},{"p":"B","s":"Test Curve","x":287.23,"y":270},{"p":"B","s":"Test Curve","x":287.1,"y":285},{"p":"B","s":"Test Curve","x":286.97,"y":265},{"p":"B","s":"Test Curve","x":286.84,"y":280},{"p":"B","s":"Test Curve","x":286.71,"y":260},{"p":"B","s":"Test Curve","x":286.58,"y":285},{"p":"B","s":"Test Curve","x":286.45,"y":275},{"p":"B","s":"Test Curve","x":286.32,"y":305},{"p":"B","s":"Test Curve","x":286.19,"y":295},{"p":"B","s":"Test Curve","x":286.06,"y":320},{"p":"B","s":"Test Curve","x":285.94,"y":330},{"p":"B","s":"Test Curve","x":285.81,"y":365},{"p":"B","s":"Test Curve","x":285.68,"y":405},{"p":"B","s":"Test Curve","x":285.55,"y":445},{"p":"B","s":"Test Curve","x":285.42,"y":505},{"p":"B","s":"Test Curve","x":285.29,"y":565},{"p":"B","s":"Test Curve","x":285.16,"y":625},{"p":"B","s":"Test Curve","x":285.03,"y":675},{"p":"B","s":"Test Curve","x":284.9,"y":725},{"p":"B","s":"Test Curve","x":284.77,"y":815},{"p":"B","s":"Test Curve","x":284.67,"y":785},{"p":"B","s":"Test Curve","x":284.58,"y":835},{"p":"B","s":"Test Curve","x":284.49,"y":875},{"p":"B","s":"Test Curve","x":284.39,"y":815},{"p":"B","s":"Test Curve","x":284.28,"y":765},{"p":"B","s":"Test Curve","x":284.19,"y":785},{"p":"B","s":"Test Curve","x":284.06,"y":665},{"p":"B","s":"Test Curve","x":283.94,"y":565},{"p":"B","s":"Test Curve","x":283.81,"y":455},{"p":"B","s":"Test Curve","x":283.68,"y":365},{"p":"B","s":"Test Curve","x":283.55,"y":305},{"p":"B","s":"Test Curve","x":283.42,"y":265},{"p":"B","s":"Test Curve","x":283.29,"y":235},{"p":"B","s":"Test Curve","x":283.16,"y":225},{"p":"B","s":"Test Curve","x":283.03,"y":205},{"p":"B","s":"Test Curve","x":282.84,"y":215},{"p":"B","s":"Test Curve","x":282.65,"y":190},{"p":"B","s":"Test Curve","x":282.45,"y":205},{"p":"B","s":"Test Curve","x":282.26,"y":220},{"p":"B","s":"Test Curve","x":282.06,"y":195},{"p":"B","s":"Test Curve","x":281.87,"y":180},{"p":"B","s":"Test Curve","x":281.68,"y":210},{"p":"B","s":"Test Curve","x":281.48,"y":185},{"p":"B","s":"Test Curve","x":281.29,"y":225},{"p":"B","s":"Test Curve","x":281.1,"y":210},{"p":"B","s":"Test Curve","x":280.9,"y":230},{"p":"B","s":"Test Curve","x":280.71,"y":195},{"p":"B","s":"Test Curve","x":280.52,"y":220},{"p":"B","s":"Test Curve","x":280.32,"y":185},{"p":"B","s":"Test Curve","x":280.19,"y":205},{"p":"B","s":"Test Curve","x":280.0,"y":220},
      {"p":"B","s":"Fitted Curve","x":295.97,"y":205},{"p":"B","s":"Fitted Curve","x":295.23,"y":213},{"p":"B","s":"Fitted Curve","x":294.58,"y":215},{"p":"B","s":"Fitted Curve","x":293.94,"y":207},{"p":"B","s":"Fitted Curve","x":293.03,"y":200},{"p":"B","s":"Fitted Curve","x":292.0,"y":205},{"p":"B","s":"Fitted Curve","x":291.23,"y":220},{"p":"B","s":"Fitted Curve","x":290.71,"y":245},{"p":"B","s":"Fitted Curve","x":290.32,"y":325},{"p":"B","s":"Fitted Curve","x":290.0,"y":415},{"p":"B","s":"Fitted Curve","x":289.78,"y":455},{"p":"B","s":"Fitted Curve","x":289.61,"y":465},{"p":"B","s":"Fitted Curve","x":289.42,"y":435},{"p":"B","s":"Fitted Curve","x":289.16,"y":385},{"p":"B","s":"Fitted Curve","x":288.84,"y":340},{"p":"B","s":"Fitted Curve","x":288.52,"y":320},{"p":"B","s":"Fitted Curve","x":288.13,"y":300},{"p":"B","s":"Fitted Curve","x":287.74,"y":280},{"p":"B","s":"Fitted Curve","x":287.23,"y":260},{"p":"B","s":"Fitted Curve","x":286.71,"y":253},{"p":"B","s":"Fitted Curve","x":286.19,"y":275},{"p":"B","s":"Fitted Curve","x":285.81,"y":325},{"p":"B","s":"Fitted Curve","x":285.42,"y":445},{"p":"B","s":"Fitted Curve","x":285.16,"y":565},{"p":"B","s":"Fitted Curve","x":284.9,"y":695},{"p":"B","s":"Fitted Curve","x":284.65,"y":805},{"p":"B","s":"Fitted Curve","x":284.41,"y":857},{"p":"B","s":"Fitted Curve","x":284.26,"y":815},{"p":"B","s":"Fitted Curve","x":284.06,"y":695},{"p":"B","s":"Fitted Curve","x":283.87,"y":525},{"p":"B","s":"Fitted Curve","x":283.61,"y":335},{"p":"B","s":"Fitted Curve","x":283.35,"y":255},{"p":"B","s":"Fitted Curve","x":282.97,"y":215},{"p":"B","s":"Fitted Curve","x":282.45,"y":190},{"p":"B","s":"Fitted Curve","x":281.78,"y":180},
      {"p":"B","s":"Background","x":295.97,"y":173},{"p":"B","s":"Background","x":281.78,"y":155},
      {"p":"B","s":"b","x":295.97,"y":177},{"p":"B","s":"b","x":291.74,"y":180},{"p":"B","s":"b","x":290.71,"y":200},{"p":"B","s":"b","x":290.32,"y":245},{"p":"B","s":"b","x":290.0,"y":325},{"p":"B","s":"b","x":289.78,"y":375},{"p":"B","s":"b","x":289.61,"y":393},{"p":"B","s":"b","x":289.42,"y":365},{"p":"B","s":"b","x":289.16,"y":285},{"p":"B","s":"b","x":288.9,"y":225},{"p":"B","s":"b","x":288.58,"y":190},{"p":"B","s":"b","x":287.87,"y":180},{"p":"B","s":"b","x":281.78,"y":173},
      {"p":"B","s":"c","x":295.97,"y":173},{"p":"B","s":"c","x":287.87,"y":175},{"p":"B","s":"c","x":285.94,"y":185},{"p":"B","s":"c","x":285.29,"y":205},{"p":"B","s":"c","x":284.9,"y":265},{"p":"B","s":"c","x":284.65,"y":375},{"p":"B","s":"c","x":284.45,"y":495},{"p":"B","s":"c","x":284.31,"y":570},{"p":"B","s":"c","x":284.15,"y":525},{"p":"B","s":"c","x":284.0,"y":425},{"p":"B","s":"c","x":283.81,"y":325},{"p":"B","s":"c","x":283.55,"y":235},{"p":"B","s":"c","x":283.23,"y":195},{"p":"B","s":"c","x":282.71,"y":177},{"p":"B","s":"c","x":281.78,"y":170},
      {"p":"B","s":"m","x":295.97,"y":175},{"p":"B","s":"m","x":290.45,"y":177},{"p":"B","s":"m","x":287.87,"y":185},{"p":"B","s":"m","x":286.84,"y":210},{"p":"B","s":"m","x":286.19,"y":255},{"p":"B","s":"m","x":285.81,"y":325},{"p":"B","s":"m","x":285.48,"y":425},{"p":"B","s":"m","x":285.23,"y":515},{"p":"B","s":"m","x":285.03,"y":565},{"p":"B","s":"m","x":284.84,"y":590},{"p":"B","s":"m","x":284.67,"y":575},{"p":"B","s":"m","x":284.45,"y":505},{"p":"B","s":"m","x":284.19,"y":405},{"p":"B","s":"m","x":283.87,"y":305},{"p":"B","s":"m","x":283.48,"y":235},{"p":"B","s":"m","x":282.97,"y":200},{"p":"B","s":"m","x":281.78,"y":180},
      {"p":"B","s":"y","x":295.97,"y":200},{"p":"B","s":"y","x":295.23,"y":207},{"p":"B","s":"y","x":294.58,"y":209},{"p":"B","s":"y","x":293.94,"y":201},{"p":"B","s":"y","x":293.03,"y":190},{"p":"B","s":"y","x":290.45,"y":180},{"p":"B","s":"y","x":287.87,"y":173},{"p":"B","s":"y","x":285.29,"y":165},{"p":"B","s":"y","x":281.78,"y":150},
      {"p":"B","s":"o","x":295.97,"y":180},{"p":"B","s":"o","x":293.03,"y":183},{"p":"B","s":"o","x":291.1,"y":195},{"p":"B","s":"o","x":290.19,"y":225},{"p":"B","s":"o","x":289.42,"y":260},{"p":"B","s":"o","x":288.9,"y":280},{"p":"B","s":"o","x":288.52,"y":285},{"p":"B","s":"o","x":288.13,"y":275},{"p":"B","s":"o","x":287.61,"y":245},{"p":"B","s":"o","x":286.97,"y":215},{"p":"B","s":"o","x":285.94,"y":190},{"p":"B","s":"o","x":284.65,"y":170},{"p":"B","s":"o","x":283.35,"y":157},{"p":"B","s":"o","x":281.78,"y":155},

      {"p":"A","s":"Test Curve","x":297.96,"y":185},{"p":"A","s":"Test Curve","x":297.81,"y":165},{"p":"A","s":"Test Curve","x":297.61,"y":180},{"p":"A","s":"Test Curve","x":297.42,"y":205},{"p":"A","s":"Test Curve","x":297.23,"y":145},{"p":"A","s":"Test Curve","x":297.03,"y":210},{"p":"A","s":"Test Curve","x":296.84,"y":165},{"p":"A","s":"Test Curve","x":296.65,"y":185},{"p":"A","s":"Test Curve","x":296.45,"y":155},{"p":"A","s":"Test Curve","x":296.26,"y":180},{"p":"A","s":"Test Curve","x":296.06,"y":165},{"p":"A","s":"Test Curve","x":295.87,"y":205},{"p":"A","s":"Test Curve","x":295.68,"y":155},{"p":"A","s":"Test Curve","x":295.48,"y":195},{"p":"A","s":"Test Curve","x":295.29,"y":215},{"p":"A","s":"Test Curve","x":295.1,"y":165},{"p":"A","s":"Test Curve","x":294.9,"y":185},{"p":"A","s":"Test Curve","x":294.71,"y":155},{"p":"A","s":"Test Curve","x":294.52,"y":170},{"p":"A","s":"Test Curve","x":294.32,"y":150},{"p":"A","s":"Test Curve","x":294.13,"y":165},{"p":"A","s":"Test Curve","x":293.94,"y":205},{"p":"A","s":"Test Curve","x":293.74,"y":155},{"p":"A","s":"Test Curve","x":293.55,"y":185},{"p":"A","s":"Test Curve","x":293.35,"y":165},{"p":"A","s":"Test Curve","x":293.23,"y":230},{"p":"A","s":"Test Curve","x":293.03,"y":165},{"p":"A","s":"Test Curve","x":292.84,"y":195},{"p":"A","s":"Test Curve","x":292.65,"y":175},{"p":"A","s":"Test Curve","x":292.45,"y":155},{"p":"A","s":"Test Curve","x":292.26,"y":160},{"p":"A","s":"Test Curve","x":292.0,"y":175},{"p":"A","s":"Test Curve","x":291.81,"y":135},{"p":"A","s":"Test Curve","x":291.61,"y":165},{"p":"A","s":"Test Curve","x":291.42,"y":195},{"p":"A","s":"Test Curve","x":291.23,"y":185},{"p":"A","s":"Test Curve","x":291.03,"y":225},{"p":"A","s":"Test Curve","x":290.84,"y":235},{"p":"A","s":"Test Curve","x":290.65,"y":305},{"p":"A","s":"Test Curve","x":290.52,"y":385},{"p":"A","s":"Test Curve","x":290.39,"y":425},{"p":"A","s":"Test Curve","x":290.26,"y":495},{"p":"A","s":"Test Curve","x":290.13,"y":585},{"p":"A","s":"Test Curve","x":290.0,"y":665},{"p":"A","s":"Test Curve","x":289.83,"y":715},{"p":"A","s":"Test Curve","x":289.7,"y":740},{"p":"A","s":"Test Curve","x":289.55,"y":625},{"p":"A","s":"Test Curve","x":289.42,"y":665},{"p":"A","s":"Test Curve","x":289.29,"y":525},{"p":"A","s":"Test Curve","x":289.16,"y":495},{"p":"A","s":"Test Curve","x":289.03,"y":425},{"p":"A","s":"Test Curve","x":288.9,"y":365},{"p":"A","s":"Test Curve","x":288.77,"y":325},{"p":"A","s":"Test Curve","x":288.58,"y":265},{"p":"A","s":"Test Curve","x":288.39,"y":245},{"p":"A","s":"Test Curve","x":288.19,"y":225},{"p":"A","s":"Test Curve","x":288.0,"y":235},{"p":"A","s":"Test Curve","x":287.81,"y":185},{"p":"A","s":"Test Curve","x":287.68,"y":165},{"p":"A","s":"Test Curve","x":287.55,"y":205},{"p":"A","s":"Test Curve","x":287.35,"y":245},{"p":"A","s":"Test Curve","x":287.16,"y":215},{"p":"A","s":"Test Curve","x":286.97,"y":245},{"p":"A","s":"Test Curve","x":286.77,"y":235},{"p":"A","s":"Test Curve","x":286.58,"y":255},{"p":"A","s":"Test Curve","x":286.39,"y":285},{"p":"A","s":"Test Curve","x":286.19,"y":265},{"p":"A","s":"Test Curve","x":286.0,"y":325},{"p":"A","s":"Test Curve","x":285.81,"y":375},{"p":"A","s":"Test Curve","x":285.61,"y":475},{"p":"A","s":"Test Curve","x":285.42,"y":545},{"p":"A","s":"Test Curve","x":285.29,"y":605},{"p":"A","s":"Test Curve","x":285.16,"y":675},{"p":"A","s":"Test Curve","x":285.03,"y":725},{"p":"A","s":"Test Curve","x":284.88,"y":765},{"p":"A","s":"Test Curve","x":284.77,"y":820},{"p":"A","s":"Test Curve","x":284.65,"y":765},{"p":"A","s":"Test Curve","x":284.52,"y":745},{"p":"A","s":"Test Curve","x":284.39,"y":695},{"p":"A","s":"Test Curve","x":284.26,"y":625},{"p":"A","s":"Test Curve","x":284.13,"y":525},{"p":"A","s":"Test Curve","x":284.0,"y":445},{"p":"A","s":"Test Curve","x":283.85,"y":365},{"p":"A","s":"Test Curve","x":283.68,"y":275},{"p":"A","s":"Test Curve","x":283.48,"y":205},{"p":"A","s":"Test Curve","x":283.29,"y":165},{"p":"A","s":"Test Curve","x":283.1,"y":155},{"p":"A","s":"Test Curve","x":282.84,"y":175},{"p":"A","s":"Test Curve","x":282.58,"y":105},{"p":"A","s":"Test Curve","x":282.45,"y":145},{"p":"A","s":"Test Curve","x":282.19,"y":165},{"p":"A","s":"Test Curve","x":281.94,"y":145},{"p":"A","s":"Test Curve","x":281.68,"y":155},{"p":"A","s":"Test Curve","x":281.42,"y":175},{"p":"A","s":"Test Curve","x":281.16,"y":135},{"p":"A","s":"Test Curve","x":280.9,"y":155},{"p":"A","s":"Test Curve","x":280.65,"y":185},{"p":"A","s":"Test Curve","x":280.45,"y":125},{"p":"A","s":"Test Curve","x":280.26,"y":155},{"p":"A","s":"Test Curve","x":280.0,"y":135},
      {"p":"A","s":"Fitted Curve","x":295.77,"y":142},{"p":"A","s":"Fitted Curve","x":294.32,"y":147},{"p":"A","s":"Fitted Curve","x":293.03,"y":153},{"p":"A","s":"Fitted Curve","x":292.0,"y":165},{"p":"A","s":"Fitted Curve","x":291.35,"y":190},{"p":"A","s":"Fitted Curve","x":290.84,"y":245},{"p":"A","s":"Fitted Curve","x":290.45,"y":365},{"p":"A","s":"Fitted Curve","x":290.13,"y":545},{"p":"A","s":"Fitted Curve","x":289.87,"y":665},{"p":"A","s":"Fitted Curve","x":289.7,"y":705},{"p":"A","s":"Fitted Curve","x":289.55,"y":675},{"p":"A","s":"Fitted Curve","x":289.29,"y":555},{"p":"A","s":"Fitted Curve","x":288.97,"y":405},{"p":"A","s":"Fitted Curve","x":288.65,"y":295},{"p":"A","s":"Fitted Curve","x":288.26,"y":225},{"p":"A","s":"Fitted Curve","x":287.87,"y":195},{"p":"A","s":"Fitted Curve","x":287.48,"y":187},{"p":"A","s":"Fitted Curve","x":287.1,"y":195},{"p":"A","s":"Fitted Curve","x":286.58,"y":225},{"p":"A","s":"Fitted Curve","x":286.19,"y":275},{"p":"A","s":"Fitted Curve","x":285.81,"y":385},{"p":"A","s":"Fitted Curve","x":285.48,"y":525},{"p":"A","s":"Fitted Curve","x":285.23,"y":645},{"p":"A","s":"Fitted Curve","x":285.03,"y":730},{"p":"A","s":"Fitted Curve","x":284.81,"y":780},{"p":"A","s":"Fitted Curve","x":284.65,"y":755},{"p":"A","s":"Fitted Curve","x":284.39,"y":665},{"p":"A","s":"Fitted Curve","x":284.06,"y":505},{"p":"A","s":"Fitted Curve","x":283.81,"y":365},{"p":"A","s":"Fitted Curve","x":283.48,"y":255},{"p":"A","s":"Fitted Curve","x":283.1,"y":195},{"p":"A","s":"Fitted Curve","x":282.71,"y":165},{"p":"A","s":"Fitted Curve","x":282.58,"y":157},
      {"p":"A","s":"Background","x":295.77,"y":125},{"p":"A","s":"Background","x":282.58,"y":92},
      {"p":"A","s":"b","x":295.77,"y":135},{"p":"A","s":"b","x":294.32,"y":139},{"p":"A","s":"b","x":293.03,"y":145},{"p":"A","s":"b","x":292.0,"y":160},{"p":"A","s":"b","x":291.35,"y":185},{"p":"A","s":"b","x":290.84,"y":235},{"p":"A","s":"b","x":290.45,"y":355},{"p":"A","s":"b","x":290.13,"y":535},{"p":"A","s":"b","x":289.87,"y":655},{"p":"A","s":"b","x":289.7,"y":690},{"p":"A","s":"b","x":289.55,"y":663},{"p":"A","s":"b","x":289.29,"y":545},{"p":"A","s":"b","x":288.97,"y":385},{"p":"A","s":"b","x":288.65,"y":265},{"p":"A","s":"b","x":288.26,"y":195},{"p":"A","s":"b","x":287.87,"y":155},{"p":"A","s":"b","x":287.23,"y":130},{"p":"A","s":"b","x":285.94,"y":113},{"p":"A","s":"b","x":284.65,"y":105},{"p":"A","s":"b","x":282.58,"y":99},
      {"p":"A","s":"c","x":295.77,"y":130},{"p":"A","s":"c","x":293.03,"y":125},{"p":"A","s":"c","x":290.45,"y":123},{"p":"A","s":"c","x":288.52,"y":130},{"p":"A","s":"c","x":287.61,"y":145},{"p":"A","s":"c","x":286.97,"y":175},{"p":"A","s":"c","x":286.45,"y":225},{"p":"A","s":"c","x":286.06,"y":295},{"p":"A","s":"c","x":285.74,"y":405},{"p":"A","s":"c","x":285.42,"y":545},{"p":"A","s":"c","x":285.16,"y":675},{"p":"A","s":"c","x":284.97,"y":750},{"p":"A","s":"c","x":284.81,"y":773},{"p":"A","s":"c","x":284.65,"y":750},{"p":"A","s":"c","x":284.39,"y":655},{"p":"A","s":"c","x":284.06,"y":495},{"p":"A","s":"c","x":283.81,"y":355},{"p":"A","s":"c","x":283.48,"y":245},{"p":"A","s":"c","x":283.1,"y":185},{"p":"A","s":"c","x":282.58,"y":155}
    ],
    "notes": [
      {"p":"E","k":"tag","x":297.87,"y":625,"t":"(E)"},{"p":"E","k":"tag","x":297.29,"y":277,"t":"1:0.8"},
      {"p":"E","k":"main","x":291.9,"y":455,"t":"CO"},{"p":"E","k":"sub","x":290.99,"y":417,"t":"3"},{"p":"E","k":"sub","x":290.8,"y":530,"t":"2-"},
      {"p":"E","k":"main","x":287.96,"y":587,"t":"C–C/C–H"},{"p":"E","k":"main","x":288.36,"y":385,"t":"Adsorption"},{"p":"E","k":"main","x":283.29,"y":563,"t":"Graphite"},
      {"p":"D","k":"tag","x":297.91,"y":760,"t":"(D)"},{"p":"D","k":"tag","x":297.42,"y":183,"t":"1:0.65"},
      {"p":"D","k":"main","x":292.52,"y":410,"t":"CaCO"},{"p":"D","k":"sub","x":290.86,"y":370,"t":"3"},
      {"p":"D","k":"main","x":289.68,"y":480,"t":"Organic materials"},{"p":"D","k":"main","x":287.81,"y":685,"t":"C–C/C–H"},{"p":"D","k":"main","x":283.51,"y":657,"t":"Carbon"},{"p":"D","k":"main","x":283.1,"y":400,"t":"Graphite"},
      {"p":"C","k":"tag","x":297.87,"y":745,"t":"(C)"},{"p":"C","k":"tag","x":297.42,"y":290,"t":"1:0.50"},
      {"p":"C","k":"main","x":292.13,"y":535,"t":"CaCO"},{"p":"C","k":"sub","x":290.49,"y":492,"t":"3"},
      {"p":"C","k":"main","x":287.25,"y":630,"t":"Carbon/"},{"p":"C","k":"main","x":287.25,"y":425,"t":"C=C"},{"p":"C","k":"main","x":283.03,"y":575,"t":"Graphite"},
      {"p":"B","k":"tag","x":297.87,"y":745,"t":"(B)"},{"p":"B","k":"tag","x":297.39,"y":305,"t":"1:0.35"},
      {"p":"B","k":"main","x":292.23,"y":440,"t":"CaCO"},{"p":"B","k":"sub","x":290.58,"y":403,"t":"3"},
      {"p":"B","k":"main","x":288.13,"y":430,"t":"C=O"},{"p":"B","k":"main","x":287.19,"y":600,"t":"Carbon"},{"p":"B","k":"main","x":283.29,"y":625,"t":"SiCN"},
      {"p":"A","k":"tag","x":297.91,"y":795,"t":"(A)"},{"p":"A","k":"tag","x":297.35,"y":270,"t":"1:0.20"},
      {"p":"A","k":"main","x":292.32,"y":595,"t":"CaCO"},{"p":"A","k":"sub","x":290.67,"y":550,"t":"3"},
      {"p":"A","k":"main","x":287.29,"y":705,"t":"Carbon"}
    ],
    "leaders": [
      {"p":"E","x":290.65,"y":480,"x2":289.81,"y2":405},{"p":"E","x":285.61,"y":505,"x2":284.86,"y2":395},{"p":"E","x":283.29,"y":645,"x2":284.06,"y2":580},
      {"p":"D","x":290.61,"y":440,"x2":289.72,"y2":330},{"p":"D","x":286.06,"y":465,"x2":285.32,"y2":325},{"p":"D","x":283.55,"y":655,"x2":284.52,"y2":505},{"p":"D","x":283.1,"y":415,"x2":283.94,"y2":345},
      {"p":"C","x":290.45,"y":615,"x2":289.52,"y2":495},{"p":"C","x":285.87,"y":560,"x2":284.97,"y2":455},{"p":"C","x":283.1,"y":630,"x2":284.0,"y2":535},
      {"p":"B","x":290.32,"y":480,"x2":289.45,"y2":290},{"p":"B","x":287.78,"y":415,"x2":288.18,"y2":260},{"p":"B","x":285.68,"y":600,"x2":284.97,"y2":380},{"p":"B","x":283.32,"y":645,"x2":284.22,"y2":490},
      {"p":"A","x":290.45,"y":625,"x2":289.52,"y2":440},{"p":"A","x":285.61,"y":690,"x2":284.9,"y2":465}
    ]
  },
  "vconcat": [
    {
      "width": 1518, "height": 313,
      "encoding": {
        "x": {"field": "x", "type": "quantitative", "scale": {"domain": [280, 298], "reverse": true, "nice": false, "zero": false}, "axis": null},
        "y": {"field": "y", "type": "quantitative", "scale": {"domain": [0, 940], "nice": false, "zero": false}, "axis": null}
      },
      "layer": [
        {"data": {"name": "curves"}, "transform": [{"filter": "datum.p == 'E'"}],
         "mark": {"type": "line"},
         "encoding": {
           "color": {"field": "s", "type": "nominal",
             "scale": {"domain": ["Test Curve","Fitted Curve","Background","b","c","m","o","y"], "range": ["#000000","#ff0000","#00e000","#0000ff","#00ffff","#ff00ff","#808000","#ffff00"]},
             "legend": {"values": ["Test Curve","Fitted Curve","Background"], "title": null, "orient": "none", "legendX": 49, "legendY": -40, "direction": "horizontal", "symbolType": "stroke", "symbolSize": 23000, "symbolStrokeWidth": 5, "labelFont": "Liberation Serif", "labelFontSize": 64, "labelColor": "black", "labelLimit": 600, "labelOffset": 14, "columnPadding": 6, "padding": 0}},
           "strokeWidth": {"condition": {"test": "datum.s == 'Test Curve'", "value": 3}, "value": 4.5}
         }},
        {"data": {"name": "leaders"}, "transform": [{"filter": "datum.p == 'E'"}],
         "mark": {"type": "rule", "color": "black", "strokeWidth": 3},
         "encoding": {"x2": {"field": "x2"}, "y2": {"field": "y2"}}},
        {"data": {"name": "notes"}, "transform": [{"filter": "datum.p == 'E' && datum.k == 'main'"}],
         "mark": {"type": "text", "align": "left", "baseline": "alphabetic", "font": "Liberation Serif", "fontSize": 56, "color": "black"},
         "encoding": {"text": {"field": "t"}}},
        {"data": {"name": "notes"}, "transform": [{"filter": "datum.p == 'E' && datum.k == 'tag'"}],
         "mark": {"type": "text", "align": "left", "baseline": "alphabetic", "font": "Liberation Serif", "fontSize": 53, "color": "black"},
         "encoding": {"text": {"field": "t"}}},
        {"data": {"name": "notes"}, "transform": [{"filter": "datum.p == 'E' && datum.k == 'sub'"}],
         "mark": {"type": "text", "align": "left", "baseline": "alphabetic", "font": "Liberation Serif", "fontSize": 34, "color": "black"},
         "encoding": {"text": {"field": "t"}}}
      ]
    },
    {
      "width": 1518, "height": 313,
      "encoding": {
        "x": {"field": "x", "type": "quantitative", "scale": {"domain": [280, 298], "reverse": true, "nice": false, "zero": false}, "axis": null},
        "y": {"field": "y", "type": "quantitative", "scale": {"domain": [0, 940], "nice": false, "zero": false}, "axis": null}
      },
      "layer": [
        {"data": {"name": "curves"}, "transform": [{"filter": "datum.p == 'D'"}],
         "mark": {"type": "line"},
         "encoding": {
           "color": {"field": "s", "type": "nominal",
             "scale": {"domain": ["Test Curve","Fitted Curve","Background","b","c","m","o","y"], "range": ["#000000","#ff0000","#00e000","#0000ff","#00ffff","#ff00ff","#808000","#ffff00"]},
             "legend": {"values": ["Test Curve","Fitted Curve","Background"], "title": null, "orient": "none", "legendX": 49, "legendY": -40, "direction": "horizontal", "symbolType": "stroke", "symbolSize": 23000, "symbolStrokeWidth": 5, "labelFont": "Liberation Serif", "labelFontSize": 64, "labelColor": "black", "labelLimit": 600, "labelOffset": 14, "columnPadding": 6, "padding": 0}},
           "strokeWidth": {"condition": {"test": "datum.s == 'Test Curve'", "value": 3}, "value": 4.5}
         }},
        {"data": {"name": "leaders"}, "transform": [{"filter": "datum.p == 'D'"}],
         "mark": {"type": "rule", "color": "black", "strokeWidth": 3},
         "encoding": {"x2": {"field": "x2"}, "y2": {"field": "y2"}}},
        {"data": {"name": "notes"}, "transform": [{"filter": "datum.p == 'D' && datum.k == 'main'"}],
         "mark": {"type": "text", "align": "left", "baseline": "alphabetic", "font": "Liberation Serif", "fontSize": 56, "color": "black"},
         "encoding": {"text": {"field": "t"}}},
        {"data": {"name": "notes"}, "transform": [{"filter": "datum.p == 'D' && datum.k == 'tag'"}],
         "mark": {"type": "text", "align": "left", "baseline": "alphabetic", "font": "Liberation Serif", "fontSize": 53, "color": "black"},
         "encoding": {"text": {"field": "t"}}},
        {"data": {"name": "notes"}, "transform": [{"filter": "datum.p == 'D' && datum.k == 'sub'"}],
         "mark": {"type": "text", "align": "left", "baseline": "alphabetic", "font": "Liberation Serif", "fontSize": 34, "color": "black"},
         "encoding": {"text": {"field": "t"}}}
      ]
    },
    {
      "width": 1518, "height": 313,
      "encoding": {
        "x": {"field": "x", "type": "quantitative", "scale": {"domain": [280, 298], "reverse": true, "nice": false, "zero": false}, "axis": null},
        "y": {"field": "y", "type": "quantitative", "scale": {"domain": [0, 940], "nice": false, "zero": false},
              "axis": {"title": "Intensity (a.u.)", "labels": false, "ticks": false, "domain": false, "grid": false, "titleFont": "DejaVu Sans", "titleFontSize": 48, "titleFontWeight": "normal", "titleColor": "black", "titlePadding": 53}}
      },
      "layer": [
        {"data": {"name": "curves"}, "transform": [{"filter": "datum.p == 'C'"}],
         "mark": {"type": "line"},
         "encoding": {
           "color": {"field": "s", "type": "nominal",
             "scale": {"domain": ["Test Curve","Fitted Curve","Background","b","c","m","o","y"], "range": ["#000000","#ff0000","#00e000","#0000ff","#00ffff","#ff00ff","#808000","#ffff00"]},
             "legend": {"values": ["Test Curve","Fitted Curve","Background"], "title": null, "orient": "none", "legendX": 49, "legendY": -40, "direction": "horizontal", "symbolType": "stroke", "symbolSize": 23000, "symbolStrokeWidth": 5, "labelFont": "Liberation Serif", "labelFontSize": 64, "labelColor": "black", "labelLimit": 600, "labelOffset": 14, "columnPadding": 6, "padding": 0}},
           "strokeWidth": {"condition": {"test": "datum.s == 'Test Curve'", "value": 3}, "value": 4.5}
         }},
        {"data": {"name": "leaders"}, "transform": [{"filter": "datum.p == 'C'"}],
         "mark": {"type": "rule", "color": "black", "strokeWidth": 3},
         "encoding": {"x2": {"field": "x2"}, "y2": {"field": "y2"}}},
        {"data": {"name": "notes"}, "transform": [{"filter": "datum.p == 'C' && datum.k == 'main'"}],
         "mark": {"type": "text", "align": "left", "baseline": "alphabetic", "font": "Liberation Serif", "fontSize": 56, "color": "black"},
         "encoding": {"text": {"field": "t"}}},
        {"data": {"name": "notes"}, "transform": [{"filter": "datum.p == 'C' && datum.k == 'tag'"}],
         "mark": {"type": "text", "align": "left", "baseline": "alphabetic", "font": "Liberation Serif", "fontSize": 53, "color": "black"},
         "encoding": {"text": {"field": "t"}}},
        {"data": {"name": "notes"}, "transform": [{"filter": "datum.p == 'C' && datum.k == 'sub'"}],
         "mark": {"type": "text", "align": "left", "baseline": "alphabetic", "font": "Liberation Serif", "fontSize": 34, "color": "black"},
         "encoding": {"text": {"field": "t"}}}
      ]
    },
    {
      "width": 1518, "height": 313,
      "encoding": {
        "x": {"field": "x", "type": "quantitative", "scale": {"domain": [280, 298], "reverse": true, "nice": false, "zero": false}, "axis": null},
        "y": {"field": "y", "type": "quantitative", "scale": {"domain": [0, 940], "nice": false, "zero": false}, "axis": null}
      },
      "layer": [
        {"data": {"name": "curves"}, "transform": [{"filter": "datum.p == 'B'"}],
         "mark": {"type": "line"},
         "encoding": {
           "color": {"field": "s", "type": "nominal",
             "scale": {"domain": ["Test Curve","Fitted Curve","Background","b","c","m","o","y"], "range": ["#000000","#ff0000","#00e000","#0000ff","#00ffff","#ff00ff","#808000","#ffff00"]},
             "legend": {"values": ["Test Curve","Fitted Curve","Background"], "title": null, "orient": "none", "legendX": 49, "legendY": -40, "direction": "horizontal", "symbolType": "stroke", "symbolSize": 23000, "symbolStrokeWidth": 5, "labelFont": "Liberation Serif", "labelFontSize": 64, "labelColor": "black", "labelLimit": 600, "labelOffset": 14, "columnPadding": 6, "padding": 0}},
           "strokeWidth": {"condition": {"test": "datum.s == 'Test Curve'", "value": 3}, "value": 4.5}
         }},
        {"data": {"name": "leaders"}, "transform": [{"filter": "datum.p == 'B'"}],
         "mark": {"type": "rule", "color": "black", "strokeWidth": 3},
         "encoding": {"x2": {"field": "x2"}, "y2": {"field": "y2"}}},
        {"data": {"name": "notes"}, "transform": [{"filter": "datum.p == 'B' && datum.k == 'main'"}],
         "mark": {"type": "text", "align": "left", "baseline": "alphabetic", "font": "Liberation Serif", "fontSize": 56, "color": "black"},
         "encoding": {"text": {"field": "t"}}},
        {"data": {"name": "notes"}, "transform": [{"filter": "datum.p == 'B' && datum.k == 'tag'"}],
         "mark": {"type": "text", "align": "left", "baseline": "alphabetic", "font": "Liberation Serif", "fontSize": 53, "color": "black"},
         "encoding": {"text": {"field": "t"}}},
        {"data": {"name": "notes"}, "transform": [{"filter": "datum.p == 'B' && datum.k == 'sub'"}],
         "mark": {"type": "text", "align": "left", "baseline": "alphabetic", "font": "Liberation Serif", "fontSize": 34, "color": "black"},
         "encoding": {"text": {"field": "t"}}}
      ]
    },
    {
      "width": 1518, "height": 313,
      "encoding": {
        "x": {"field": "x", "type": "quantitative", "scale": {"domain": [280, 298], "reverse": true, "nice": false, "zero": false},
              "axis": {"values": [298, 296, 294, 292, 290, 288, 286, 284, 282, 280], "format": "d", "domain": false, "grid": false, "ticks": true, "tickSize": 27, "tickWidth": 3, "tickColor": "black", "labelFont": "Liberation Serif", "labelFontSize": 58, "labelColor": "black", "labelPadding": 14, "labelFlush": false, "labelOverlap": false, "title": "Binding Energy (eV)", "titleFont": "Liberation Serif", "titleFontSize": 58, "titleFontWeight": "normal", "titleColor": "black", "titlePadding": 14}},
        "y": {"field": "y", "type": "quantitative", "scale": {"domain": [0, 940], "nice": false, "zero": false}, "axis": null}
      },
      "layer": [
        {"data": {"name": "curves"}, "transform": [{"filter": "datum.p == 'A'"}],
         "mark": {"type": "line"},
         "encoding": {
           "color": {"field": "s", "type": "nominal",
             "scale": {"domain": ["Test Curve","Fitted Curve","Background","b","c","m","o","y"], "range": ["#000000","#ff0000","#00e000","#0000ff","#00ffff","#ff00ff","#808000","#ffff00"]},
             "legend": {"values": ["Test Curve","Fitted Curve","Background"], "title": null, "orient": "none", "legendX": 49, "legendY": -40, "direction": "horizontal", "symbolType": "stroke", "symbolSize": 23000, "symbolStrokeWidth": 5, "labelFont": "Liberation Serif", "labelFontSize": 64, "labelColor": "black", "labelLimit": 600, "labelOffset": 14, "columnPadding": 6, "padding": 0}},
           "strokeWidth": {"condition": {"test": "datum.s == 'Test Curve'", "value": 3}, "value": 4.5}
         }},
        {"data": {"name": "leaders"}, "transform": [{"filter": "datum.p == 'A'"}],
         "mark": {"type": "rule", "color": "black", "strokeWidth": 3},
         "encoding": {"x2": {"field": "x2"}, "y2": {"field": "y2"}}},
        {"data": {"name": "notes"}, "transform": [{"filter": "datum.p == 'A' && datum.k == 'main'"}],
         "mark": {"type": "text", "align": "left", "baseline": "alphabetic", "font": "Liberation Serif", "fontSize": 56, "color": "black"},
         "encoding": {"text": {"field": "t"}}},
        {"data": {"name": "notes"}, "transform": [{"filter": "datum.p == 'A' && datum.k == 'tag'"}],
         "mark": {"type": "text", "align": "left", "baseline": "alphabetic", "font": "Liberation Serif", "fontSize": 53, "color": "black"},
         "encoding": {"text": {"field": "t"}}},
        {"data": {"name": "notes"}, "transform": [{"filter": "datum.p == 'A' && datum.k == 'sub'"}],
         "mark": {"type": "text", "align": "left", "baseline": "alphabetic", "font": "Liberation Serif", "fontSize": 34, "color": "black"},
         "encoding": {"text": {"field": "t"}}}
      ]
    }
  ]
}
